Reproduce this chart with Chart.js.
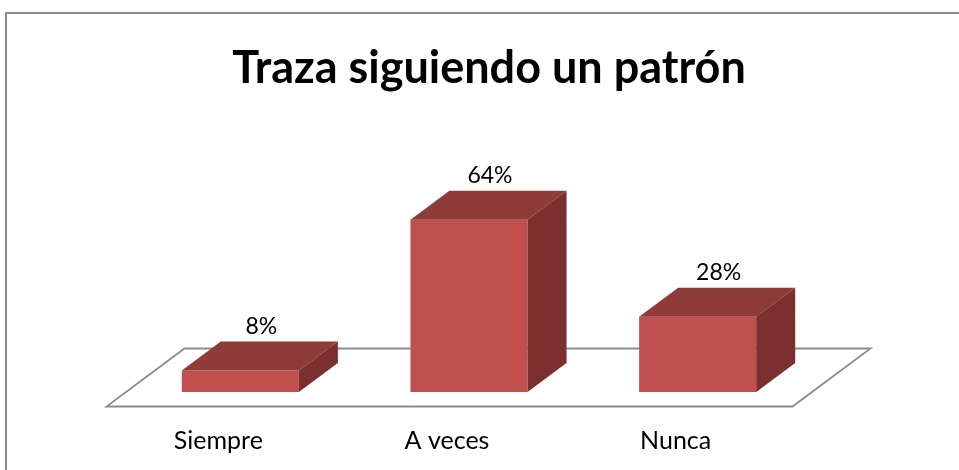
<!DOCTYPE html>
<html>
<head>
<meta charset="utf-8">
<title>Traza siguiendo un patrón</title>
<script src="https://cdn.jsdelivr.net/npm/chart.js@4.4.0/dist/chart.umd.min.js"></script>
<style>
  html, body { margin: 0; padding: 0; background: #fff; }
  #wrap { width: 959px; height: 470px; }
</style>
</head>
<body>
<div id="wrap"><canvas id="grafico"></canvas></div>
<script>
const categorias = ['Siempre', 'A veces', 'Nunca'];
const porcentajes = [8, 64, 28];
const titulo = 'Traza siguiendo un patrón';

const fonte = 'Lato, "Open Sans", sans-serif';
const corFrente = '#C0504D';
const corTopo = '#8E3B39';
const corLado = '#7B302F';
const corLinha = '#8c8c8c';

// profundidade do piso 3D (deslocamento em px); as barras ocupam a metade central
const pisoDx = 78, pisoDy = -58;

const efeito3d = {
    id: 'efeito3d',
    beforeDraw(chart) {
        const ctx = chart.ctx;
        ctx.save();
        ctx.fillStyle = '#fff';
        ctx.fillRect(0, 0, chart.width, chart.height);
        // moldura do gráfico
        ctx.strokeStyle = corLinha;
        ctx.lineWidth = 2;
        ctx.strokeRect(6, 13, chart.width + 20, chart.height + 20);
        // título (centrado na área útil, um pouco à direita do centro do canvas)
        ctx.fillStyle = '#000';
        ctx.font = 'bold 45px ' + fonte;
        ctx.textAlign = 'center';
        ctx.textBaseline = 'middle';
        ctx.fillText(titulo, 489, 68);
        ctx.restore();
    },
    beforeDatasetsDraw(chart) {
        const a = chart.chartArea;
        const ctx = chart.ctx;
        const x0 = a.left - pisoDx / 4, x1 = a.right - pisoDx / 4;
        const y0 = a.bottom - pisoDy / 4;
        ctx.save();
        ctx.beginPath();
        ctx.moveTo(x0, y0);
        ctx.lineTo(x1, y0);
        ctx.lineTo(x1 + pisoDx, y0 + pisoDy);
        ctx.lineTo(x0 + pisoDx, y0 + pisoDy);
        ctx.closePath();
        ctx.fillStyle = '#fff';
        ctx.fill();
        ctx.strokeStyle = corLinha;
        ctx.lineWidth = 1.8;
        ctx.stroke();
        ctx.restore();
    },
    afterDatasetsDraw(chart) {
        const ctx = chart.ctx;
        const dx = pisoDx / 2, dy = pisoDy / 2;
        const meta = chart.getDatasetMeta(0);
        ctx.save();
        meta.data.forEach(function (bar, i) {
            const p = bar.getProps(['x', 'y', 'base', 'width'], true);
            const l = p.x - p.width / 2, r = p.x + p.width / 2;

            // face de cima
            ctx.beginPath();
            ctx.moveTo(l, p.y);
            ctx.lineTo(l + dx, p.y + dy);
            ctx.lineTo(r + dx, p.y + dy);
            ctx.lineTo(r, p.y);
            ctx.closePath();
            ctx.fillStyle = corTopo;
            ctx.fill();

            // face lateral
            ctx.beginPath();
            ctx.moveTo(r, p.y);
            ctx.lineTo(r + dx, p.y + dy);
            ctx.lineTo(r + dx, p.base + dy);
            ctx.lineTo(r, p.base);
            ctx.closePath();
            ctx.fillStyle = corLado;
            ctx.fill();

            // rótulo de valor
            ctx.fillStyle = '#000';
            ctx.font = '23px ' + fonte;
            ctx.textAlign = 'center';
            ctx.textBaseline = 'middle';
            ctx.fillText(porcentajes[i] + '%', p.x + 21, p.y + dy - 15);
        });
        ctx.restore();
    }
};

const ctx = document.getElementById('grafico').getContext('2d');
const grafico = new Chart(ctx, {
    type: 'bar',
    data: {
        labels: categorias,
        datasets: [{
            data: porcentajes,
            backgroundColor: corFrente,
            borderWidth: 0,
            categoryPercentage: 1,
            barPercentage: 0.512
        }]
    },
    options: {
        responsive: true,
        maintainAspectRatio: false,
        animation: false,
        layout: { padding: { left: 126, right: 147, top: 123, bottom: 0 } },
        scales: {
            x: {
                offset: true,
                grid: { display: false, drawTicks: false },
                border: { display: false },
                ticks: {
                    color: '#000',
                    font: { family: fonte, size: 25 },
                    padding: 34,
                    labelOffset: -22
                },
                // altura fixa do eixo para a base das barras ficar em y = 392
                afterFit: function (scale) {
                    scale.height = 78;
                }
            },
            y: { display: false, min: 0, max: 100 }
        },
        plugins: {
            legend: { display: false },
            tooltip: { enabled: false },
            title: { display: false }
        }
    },
    plugins: [efeito3d]
});
</script>
</body>
</html>
